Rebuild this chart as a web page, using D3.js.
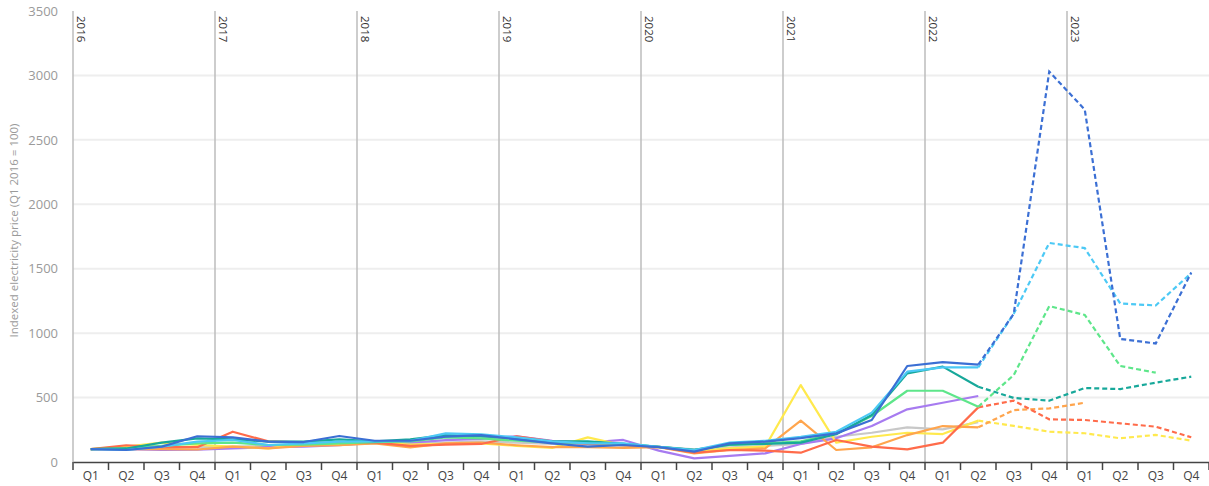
<!DOCTYPE html>
<html><head><meta charset="utf-8">
<script src="https://cdn.jsdelivr.net/npm/d3@7"></script>
<style>
html,body{margin:0;padding:0;background:#fff;}
svg{display:block;font-family:"Open Sans",sans-serif;}
</style></head>
<body><svg id="c" width="1209" height="486"></svg>
<script>
const years = ["2016","2017","2018","2019","2020","2021","2022","2023"];
const quarters = ["Q1","Q2","Q3","Q4"];
const yTicks = [0,500,1000,1500,2000,2500,3000,3500];
const forecastStart = 25; // index of Q2 2022, dashed from here

const darkBlue = [100,93,119,200,191,158,155,202,165,165,197,209,176,145,119,132,115,80,145,158,185,222,326,745,775,755,1150,3030,2735,955,920,1470];
const lightBlue = [100,93,119,158,171,132,145,158,160,165,222,215,191,160,145,145,118,93,150,165,195,235,383,701,735,735,1150,1700,1660,1230,1215,1466];
const teal = [100,105,150,184,175,158,158,175,160,176,209,200,184,160,160,140,118,95,135,140,150,215,365,688,740,584,497,476,574,566,616,662];
const green = [100,105,125,145,150,132,135,145,155,160,191,184,165,150,150,140,118,93,132,145,160,220,357,553,553,429,675,1210,1141,745,693,null];
const purple = [100,100,93,95,105,115,120,130,150,150,170,180,200,165,150,171,88,28,47,67,140,184,279,409,460,512,null,null,null,null,null,null];
const red = [100,130,115,115,235,160,150,150,150,125,135,140,200,160,140,130,118,72,93,88,72,171,119,98,150,424,476,331,326,300,274,192];
const orange = [100,100,100,97,119,106,125,130,145,114,145,150,130,115,115,110,115,67,93,106,321,93,114,209,279,269,403,416,460,null,null,null];
const yellow = [100,119,150,132,120,106,140,135,150,135,140,145,125,110,191,130,115,80,106,119,597,150,196,227,217,321,280,235,223,184,210,166];
const gray = [100,105,110,115,120,125,130,135,145,145,150,160,150,140,135,130,118,98,114,124,140,196,227,269,253,310,null,null,null,null,null,null];

const series = [
  {v:gray, c:"#c8c8c8"},
  {v:purple, c:"#a77bf0"},
  {v:yellow, c:"#ffe94d"},
  {v:orange, c:"#ffa54d"},
  {v:red, c:"#ff6b4a"},
  {v:green, c:"#5ee68a"},
  {v:teal, c:"#17a89a"},
  {v:lightBlue, c:"#4cc9f5"},
  {v:darkBlue, c:"#3b6fd4"}
];

const periods = [];
years.forEach(y => quarters.forEach(q => periods.push(y+"-"+q)));

const svg = d3.select("#c");
const L = 73, R = 1209, T = 11, B = 462;
const x = d3.scaleBand().domain(periods).range([L, R]).padding(0);
const y = d3.scaleLinear().domain([0,3500]).range([B, T]);
const cx = i => x(periods[i]) + x.bandwidth()/2;

// gridlines
svg.append("g").selectAll("line").data(yTicks.filter(t=>t>0 && t<3500)).join("line")
  .attr("x1", L).attr("x2", R).attr("y1", d=>y(d)).attr("y2", d=>y(d))
  .attr("stroke", "#eeeeee").attr("stroke-width", 2);

// y axis labels
const yAxis = d3.axisLeft(y).tickValues(yTicks).tickFormat(d3.format("d")).tickSize(0).tickPadding(15);
const ya = svg.append("g").attr("transform", `translate(${L},0)`).call(yAxis);
ya.select(".domain").remove();
ya.selectAll("text").attr("fill", "#9a9a9a").style("font-size", "13px").style("font-family","Open Sans");

// y title
svg.append("text").attr("transform", `translate(18,${(T+B)/2 - 6}) rotate(-90)`)
  .attr("text-anchor","middle").attr("fill","#9a9a9a").style("font-size","11.5px")
  .text("Indexed electricity price (Q1 2016 = 100)");

// year lines & labels
years.forEach(yr => {
  const xx = x(yr+"-Q1");
  svg.append("line").attr("x1", xx).attr("x2", xx).attr("y1", T).attr("y2", B)
    .attr("stroke", "#bdbdbd").attr("stroke-width", 1.5);
  svg.append("text").attr("transform", `translate(${xx+4},${T+5}) rotate(90)`)
    .attr("fill","#333").style("font-size","11.5px").text(yr);
});

// x axis
const xAxis = d3.axisBottom(x).tickFormat(d => d.split("-")[1]).tickSize(0).tickPadding(9);
const xa = svg.append("g").attr("transform", `translate(0,${B})`).call(xAxis);
xa.select(".domain").attr("stroke","#444").attr("stroke-width",1.5);
xa.selectAll("text").attr("fill","#444").style("font-size","12px").style("font-family","Open Sans");
svg.append("g").selectAll("line").data(periods.concat(["end"])).join("line")
  .attr("x1", (d,i)=> L + i*x.bandwidth()).attr("x2", (d,i)=> L + i*x.bandwidth())
  .attr("y1", B).attr("y2", B+8).attr("stroke","#444").attr("stroke-width",1.5);

// lines
const line = d3.line().defined(d => d.v != null).x(d => cx(d.i)).y(d => y(d.v));
const g = svg.append("g");
series.forEach(s => {
  const pts = s.v.map((v,i)=>({v,i}));
  const solid = pts.filter(p => p.i <= forecastStart);
  const dashed = pts.filter(p => p.i >= forecastStart);
  g.append("path").attr("d", line(solid)).attr("fill","none")
    .attr("stroke", s.c).attr("stroke-width", 2.2).attr("stroke-linejoin","round");
  if (dashed.filter(p=>p.v!=null).length > 1) {
    g.append("path").attr("d", line(dashed)).attr("fill","none")
      .attr("stroke", s.c).attr("stroke-width", 2.2).attr("stroke-dasharray","5,3");
  }
});
</script></body></html>
